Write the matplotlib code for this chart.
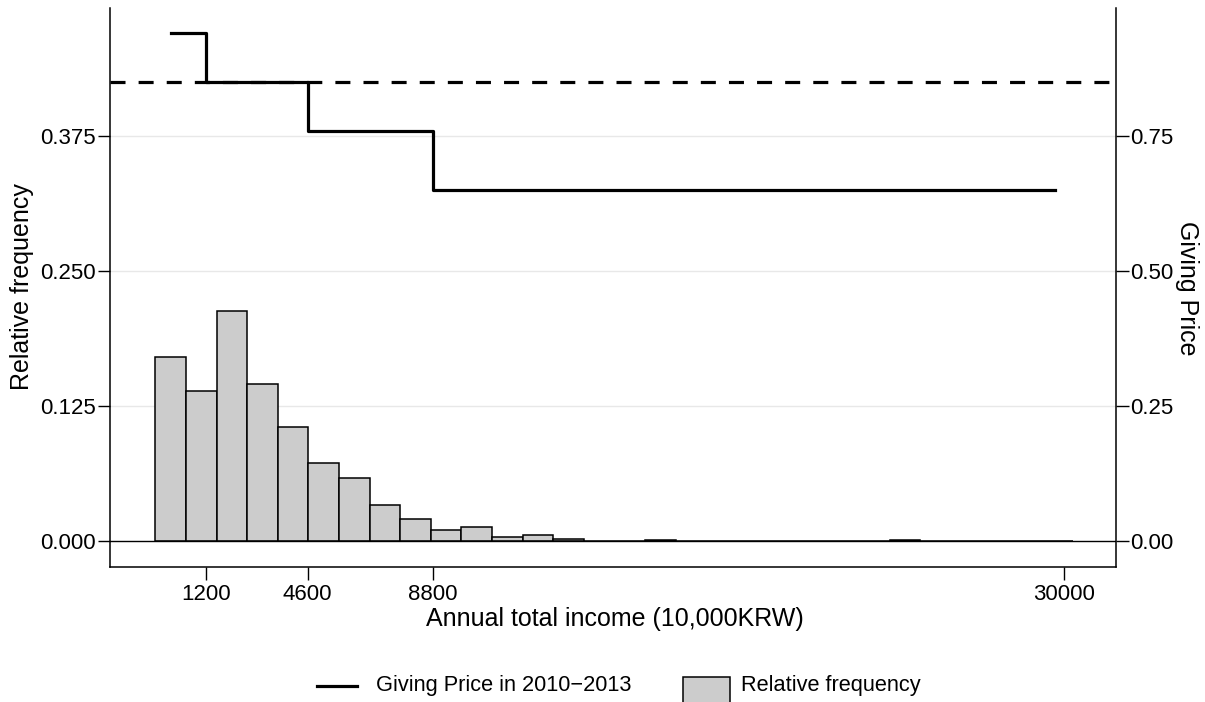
import numpy as np
import matplotlib
matplotlib.use("Agg")
import matplotlib.pyplot as plt
from matplotlib.lines import Line2D
from matplotlib.patches import Rectangle

plt.rcParams['font.family'] = ['Liberation Sans', 'DejaVu Sans']

# ---- data ----
bin_start = -514
bin_width = 1028
rel_freq = [0.170, 0.139, 0.213, 0.145, 0.1056, 0.0722, 0.0586, 0.0336,
            0.0204, 0.0099, 0.0127, 0.0040, 0.0056, 0.0015, 0.0004, 0.0001,
            0.0008, 0.0003, 0.0003, 0.0002, 0.0002, 0.0001, 0.0001, 0.0001,
            0.0006, 0.0003, 0.0001, 0.0001, 0.0001, 0.0005]

price_income = [0, 1200, 4600, 8800, 29700]
giving_price = [0.94, 0.85, 0.76, 0.65, 0.65]
price_2014 = 0.85

x_ticks = [1200, 4600, 8800, 30000]
left_ticks = [0.0, 0.125, 0.250, 0.375]
right_ticks = [0.0, 0.25, 0.50, 0.75]

FS_TICK = 16
FS_TITLE = 18
FS_LEG = 15.7

# ---- figure ----
fig = plt.figure(figsize=(12.05, 7.02), dpi=100)
ax = fig.add_axes([110 / 1205, 1 - 567 / 702, (1116 - 110) / 1205, (567 - 8) / 702])
ax2 = ax.twinx()

lefts = bin_start + bin_width * np.arange(len(rel_freq))
ax.bar(lefts, rel_freq, width=bin_width, align='edge', color='#cccccc',
       edgecolor='black', linewidth=1.1, zorder=2)
for t in left_ticks[1:]:
    ax.axhline(t, color='#e8e8e8', linewidth=1.0, zorder=0)
ax.axhline(0, color='black', linewidth=1.0, zorder=3)

ax2.plot(price_income, giving_price, drawstyle='steps-post', color='black',
         linewidth=2.3, zorder=4)
ax2.axhline(price_2014, color='black', linewidth=2.3, linestyle=(0, (4.7, 4.1)), zorder=4)

ax.set_xlim(-2036, 31757)
ax.set_ylim(-0.024, 0.4935)
ax2.set_ylim(-0.048, 0.987)

ax.set_xticks(x_ticks)
ax.set_xticklabels([str(v) for v in x_ticks])
ax.set_yticks(left_ticks)
ax.set_yticklabels([f'{v:.3f}' for v in left_ticks])
ax2.set_yticks(right_ticks)
ax2.set_yticklabels([f'{v:.2f}' for v in right_ticks])

for a in (ax, ax2):
    a.spines['top'].set_visible(False)
    for s in a.spines.values():
        s.set_linewidth(1.1)
ax.spines['right'].set_visible(False)
ax2.spines['left'].set_visible(False)
ax2.spines['bottom'].set_visible(False)

ax.tick_params(axis='x', length=9, width=1.0, pad=3, labelsize=FS_TICK)
ax.tick_params(axis='y', length=9, width=1.0, pad=1.5, labelsize=FS_TICK)
ax2.tick_params(axis='y', length=9, width=1.0, pad=1.0, labelsize=FS_TICK)

fig.text(615 / 1205, 1 - 619 / 702, 'Annual total income (10,000KRW)',
         ha='center', va='center', fontsize=FS_TITLE)
fig.text(22 / 1205, 1 - 287 / 702, 'Relative frequency', rotation=90,
         ha='center', va='center', fontsize=FS_TITLE)
fig.text(1187 / 1205, 1 - 288 / 702, 'Giving Price', rotation=270,
         ha='center', va='center', fontsize=FS_TITLE)

# ---- legend drawn at the bottom ----
ly = 1 - 686 / 702
fig.add_artist(Line2D([317 / 1205, 357 / 1205], [ly, ly], color='black', linewidth=2.3))
fig.text(376 / 1205, ly, 'Giving Price in 2010\u22122013', ha='left', va='center', fontsize=FS_LEG)
fig.add_artist(Rectangle((683 / 1205, -0.05), 47 / 1205, 0.05 + 1 - 677 / 702,
                         facecolor='#cccccc', edgecolor='black', linewidth=1.1,
                         transform=fig.transFigure))
fig.text(741 / 1205, ly, 'Relative frequency', ha='left', va='center', fontsize=FS_LEG)

fig.savefig('out.png', dpi=100)
